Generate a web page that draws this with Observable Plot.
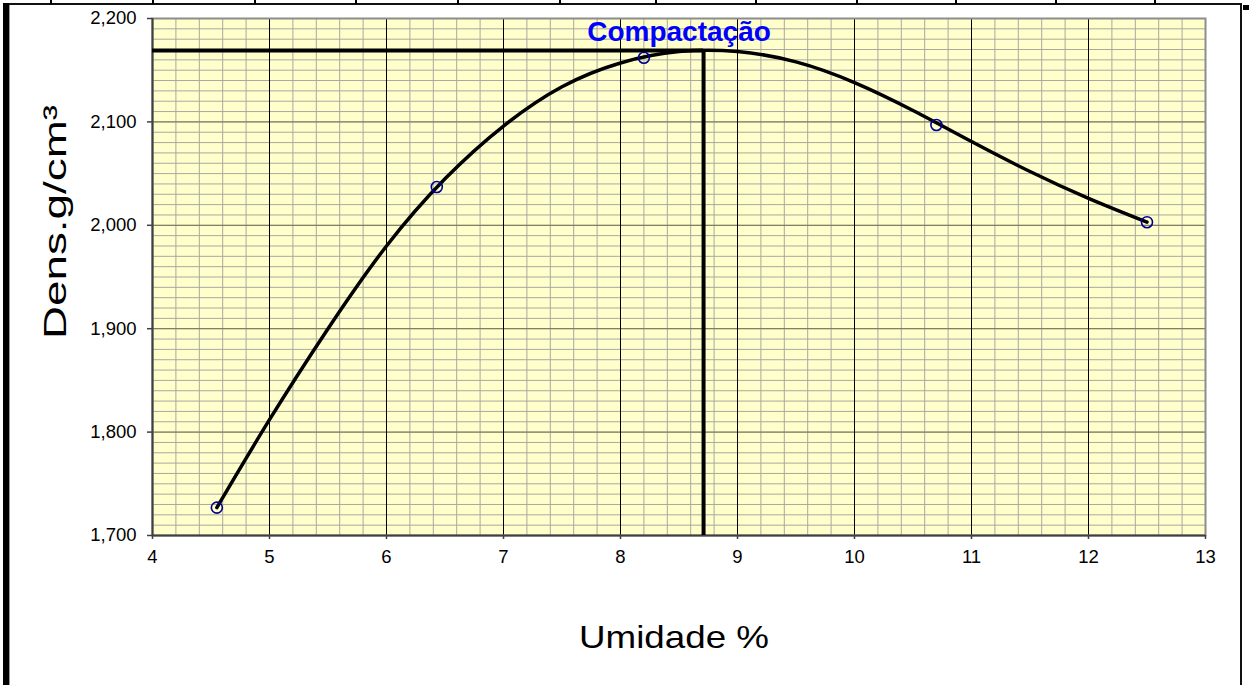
<!DOCTYPE html>
<html><head><meta charset="utf-8">
<script src="https://cdn.jsdelivr.net/npm/d3@7"></script>
<script src="https://cdn.jsdelivr.net/npm/@observablehq/plot@0.6"></script>
<style>
body{margin:0;background:#fff;}
#wrap{position:relative;width:1249px;height:685px;overflow:hidden;background:#fff;font-family:"Liberation Sans",Arial,sans-serif;}
#wrap svg{position:absolute;left:0;top:0;background:transparent;}
.d{position:absolute;background:#111;}
</style></head><body><div id="wrap"></div>
<script>
// Measured points (Umidade %, Dens. g/cm³)
const umidade = [4.55, 6.43, 8.2, 10.7, 12.5];
const densidade = [1.727, 2.037, 2.162, 2.097, 2.003];
// Trend curve samples
const curvaUmidade = [4.55, 5.0, 5.5, 6.0, 6.5, 7.0, 7.5, 8.0, 8.5, 9.0, 9.5, 10.0, 10.5, 11.0, 11.5, 12.0, 12.5];
const curvaDensidade = [1.727, 1.812, 1.900, 1.980, 2.045, 2.096, 2.134, 2.157, 2.168, 2.168, 2.158, 2.138, 2.111, 2.081, 2.052, 2.026, 2.003];
// Maximum (compaction optimum)
const maxUmidade = [8.71];
const maxDensidade = [2.169];
const rotulo = ["Compactação"];
const rotuloUmidade = [8.5];
const rotuloDensidade = [2.187];
// Axis ticks
const xTicks = [4, 5, 6, 7, 8, 9, 10, 11, 12, 13];
const yTicks = [1.7, 1.8, 1.9, 2.0, 2.1, 2.2];
const xDomain = [4, 13];
const yDomain = [1.7, 2.2];
const xTitle = "Umidade %";
const yTitle = "Dens.g/cm³";

const xMinor = d3.range(40, 131, 2).map(v => v / 10);
const yMinor = d3.range(170, 221, 1).map(v => v / 100);

const pontos = umidade.map((u, i) => ({u, d: densidade[i]}));
const curva = curvaUmidade.map((u, i) => ({u, d: curvaDensidade[i]}));
const rot = rotulo.map((t, i) => ({t, u: rotuloUmidade[i], d: rotuloDensidade[i]}));
const fmtY = v => v.toFixed(3).replace(".", ",");
const fmtX = v => String(v);
const font = "Liberation Sans, Arial, sans-serif";

const chart = Plot.plot({
  width: 1249, height: 685,
  marginLeft: 152, marginRight: 44, marginTop: 18, marginBottom: 150,
  style: {fontFamily: font, fontSize: "18.5px", color: "#000", background: "transparent"},
  x: {domain: xDomain},
  y: {domain: yDomain},
  marks: [
    Plot.frame({fill: "#FFFFCC"}),
    Plot.gridX(xMinor, {stroke: "#a8a8a0", strokeOpacity: 1, strokeWidth: 1}),
    Plot.gridY(yMinor, {stroke: "#a8a8a0", strokeOpacity: 1, strokeWidth: 1}),
    Plot.gridY(yTicks, {stroke: "#73735a", strokeOpacity: 1, strokeWidth: 1}),
    Plot.gridX(xTicks, {stroke: "#000", strokeOpacity: 1, strokeWidth: 1}),
    Plot.frame({stroke: "#8c8c8c", strokeWidth: 2}),
    Plot.ruleX([xDomain[0]], {stroke: "#404040", strokeWidth: 2}),
    Plot.ruleY([yDomain[0]], {stroke: "#404040", strokeWidth: 2}),
    Plot.axisX(xTicks, {tickSize: 4, tickPadding: 10, fontSize: 18.5, label: null, tickFormat: fmtX, stroke: "#404040", strokeWidth: 1.5, fill: "#000"}),
    Plot.axisY(yTicks, {tickSize: 5, tickPadding: 11, fontSize: 18.5, label: null, tickFormat: fmtY, stroke: "#404040", strokeWidth: 1.5, fill: "#000"}),
    Plot.ruleY(maxDensidade, {x1: xDomain[0], x2: maxUmidade[0], stroke: "#000", strokeWidth: 4}),
    Plot.ruleX(maxUmidade, {y1: yDomain[0], y2: maxDensidade[0], stroke: "#000", strokeWidth: 4}),
    Plot.line(curva, {x: "u", y: "d", curve: "natural", stroke: "#000", strokeWidth: 3.5}),
    Plot.dot(pontos, {x: "u", y: "d", r: 5.5, stroke: "#000090", strokeWidth: 1.6, fill: "none"}),
    Plot.text(rot, {x: "u", y: "d", text: "t", fill: "#0000ff", fontWeight: "bold", fontSize: 28, fontFamily: font}),
    Plot.text([xTitle], {text: d => d, frameAnchor: "bottom", dy: 102, dx: -5, lineAnchor: "middle", fontSize: 32, fill: "#000"}),
    Plot.text([yTitle], {text: d => d, frameAnchor: "left", rotate: -90, dx: -97, dy: 62, lineAnchor: "middle", fontSize: 32, fill: "#000"})
  ]
});
document.getElementById("wrap").appendChild(chart);

// tick label size and title stretching
const tickLabels = new Set([...xTicks.map(fmtX), ...yTicks.map(fmtY)]);
chart.querySelectorAll("text").forEach(t => {
  if (tickLabels.has(t.textContent)) t.style.fontSize = "18.5px";
  if (t.textContent === xTitle) { t.setAttribute("textLength", 190); t.setAttribute("lengthAdjust", "spacingAndGlyphs"); }
  if (t.textContent === yTitle) { t.setAttribute("textLength", 234); t.setAttribute("lengthAdjust", "spacingAndGlyphs"); }
});

// sheet / frame decoration
const wrap = document.getElementById("wrap");
function deco(l, t, w, h, c) {
  const e = document.createElement("div");
  e.className = "d";
  Object.assign(e.style, {left: l + "px", top: t + "px", width: w + "px", height: h + "px"});
  if (c) e.style.background = c;
  wrap.appendChild(e);
}
deco(3, 3, 1239, 2, "#111");
[50, 152, 254, 355, 457, 559, 655, 755, 856, 955, 1055, 1154].forEach(x => deco(x, 0, 2, 4, "#000"));
deco(3, 3, 6, 682, "#000");
deco(9, 5, 1, 680, "#999");
deco(1240, 4, 2, 681, "#111");
deco(1243, 5, 6, 5, "#000");
</script></body></html>
